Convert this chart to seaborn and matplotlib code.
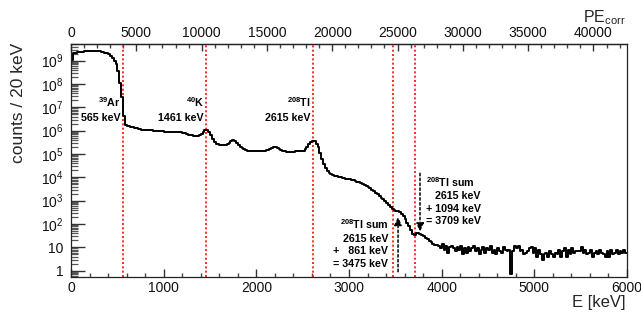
import numpy as np
import pandas as pd
import matplotlib
matplotlib.use("Agg")
import matplotlib.pyplot as plt
import seaborn as sns
from matplotlib.ticker import MultipleLocator, FixedLocator, NullFormatter

# ---------------- data ----------------
bin_width_keV = 20
e_max_keV = 6000
pe_per_keV = 7.095  # top axis calibration

# log10(counts) per 20 keV bin, 0 .. 3940 keV
spectrum_log10 = [
    9.03, 9.33, 9.35, 9.36, 9.37, 9.38, 9.39, 9.40, 9.41, 9.41,
    9.42, 9.42, 9.42, 9.42, 9.41, 9.40, 9.39, 9.37, 9.35, 9.33,
    9.30, 9.22, 9.13, 9.00, 8.85, 8.55, 8.03, 7.46, 6.65, 6.25,
    6.22, 6.20, 6.17, 6.15, 6.13, 6.10, 6.08, 6.06, 6.05, 6.04,
    6.04, 6.03, 6.02, 6.01, 6.00, 6.00, 5.99, 5.99, 5.98, 5.97,
    5.96, 5.95, 5.94, 5.93, 5.93, 5.93, 5.94, 5.95, 5.96, 5.95,
    5.92, 5.88, 5.85, 5.83, 5.82, 5.80, 5.79, 5.77, 5.78, 5.80,
    5.86, 5.95, 6.03, 6.04, 5.95, 5.82, 5.65, 5.50, 5.44, 5.42,
    5.40, 5.38, 5.37, 5.38, 5.42, 5.48, 5.55, 5.58, 5.55, 5.47,
    5.39, 5.32, 5.26, 5.22, 5.18, 5.15, 5.13, 5.12, 5.12, 5.12,
    5.12, 5.13, 5.13, 5.14, 5.15, 5.17, 5.19, 5.22, 5.25, 5.28,
    5.29, 5.27, 5.22, 5.17, 5.13, 5.11, 5.09, 5.08, 5.08, 5.09,
    5.10, 5.11, 5.12, 5.13, 5.13, 5.14, 5.20, 5.30, 5.42, 5.52,
    5.57, 5.55, 5.45, 5.28, 5.05, 4.80, 4.58, 4.40, 4.27, 4.19,
    4.14, 4.10, 4.07, 4.05, 4.03, 4.01, 3.99, 3.97, 3.95, 3.94,
    3.92, 3.90, 3.87, 3.84, 3.80, 3.78, 3.75, 3.71, 3.67, 3.62,
    3.58, 3.53, 3.47, 3.40, 3.34, 3.27, 3.20, 3.13, 3.06, 2.99,
    2.91, 2.83, 2.75, 2.66, 2.58, 2.56, 2.54, 2.50, 2.44, 2.36,
    2.22, 2.05, 1.90, 1.75, 1.58, 1.55, 1.60, 1.60, 1.58, 1.55,
    1.48, 1.42, 1.35, 1.28, 1.22, 1.15, 1.10, 1.08,
]

# counts per 20 keV bin, 3960 .. 5980 keV
tail_counts = [
    12, 9, 14, 8, 11, 6, 10, 12, 9, 7,
    10, 8, 11, 5, 9, 6, 10, 7, 9, 11,
    7, 9, 5, 8, 10, 6, 9, 8, 11, 6,
    8, 5, 9, 7, 6, 10, 8, 7, 8, 0.7,
    7, 12, 9, 11, 7, 8, 5, 6, 7, 9,
    10, 6, 9, 4, 8, 5, 3, 5, 6, 4,
    7, 5, 4, 6, 5, 8, 4, 7, 9, 4,
    8, 5, 9, 6, 7, 7, 7, 10, 6, 8,
    5, 6, 8, 4, 6, 7, 5, 8, 6, 5,
    4, 7, 4, 8, 5, 6, 8, 5, 7, 6,
    8, 6,
]

line_energies = [565, 1461, 2615, 3475, 3709]
peak_isotopes = [r"$\mathbf{^{39}}$Ar", r"$\mathbf{^{40}}$K", r"$\mathbf{^{208}}$Tl"]
peak_energy_text = ["565 keV", "1461 keV", "2615 keV"]

sum_low_lines = [r"$\mathbf{^{208}}$Tl sum", "2615 keV", "+   861 keV", "= 3475 keV"]
sum_high_lines = [r"$\mathbf{^{208}}$Tl sum", "2615 keV", "+ 1094 keV", "= 3709 keV"]

ytick_values = [1, 10, 1e2, 1e3, 1e4, 1e5, 1e6, 1e7, 1e8, 1e9]
ytick_labels = ["1", "10"] + [r"$10^{%d}$" % k for k in range(2, 10)]
xtick_values = [0, 1000, 2000, 3000, 4000, 5000, 6000]
pe_tick_values = [0, 5000, 10000, 15000, 20000, 25000, 30000, 35000, 40000]

counts = list(10 ** np.array(spectrum_log10)) + tail_counts
assert len(counts) == e_max_keV // bin_width_keV
bin_centers = np.arange(bin_width_keV / 2, e_max_keV, bin_width_keV)
df = pd.DataFrame({"E": bin_centers, "counts": counts})

# ---------------- style ----------------
sns.set_theme(style="ticks", rc={"xtick.direction": "in", "ytick.direction": "in"})
plt.rcParams["font.family"] = ["Liberation Sans", "DejaVu Sans"]
plt.rcParams["mathtext.fontset"] = "custom"
plt.rcParams["mathtext.rm"] = "Liberation Sans"
plt.rcParams["mathtext.it"] = "Liberation Sans:italic"
plt.rcParams["mathtext.bf"] = "Liberation Sans:bold"
plt.rcParams["mathtext.default"] = "regular"

fig = plt.figure(figsize=(6.41, 3.12), dpi=100)
ax = fig.add_axes([0.1108, 0.1122, 0.8674, 0.7468])

sns.histplot(data=df, x="E", weights="counts", binwidth=bin_width_keV,
             binrange=(0, e_max_keV), element="step",
             fill=False, color="black", linewidth=1.4, ax=ax)
ax.set_yscale("log")
ax.set_xlim(0, e_max_keV)
ax.set_ylim(0.537, 5.2e9)

for e in line_energies:
    ax.axvline(e, color="#ff1a1a", linestyle=(0, (1.1, 1.3)), linewidth=1.3, zorder=1)

# axes & ticks
ax.set_xticks(xtick_values)
ax.xaxis.set_minor_locator(MultipleLocator(200))
ax.set_yticks(ytick_values, labels=ytick_labels)
minor_y = [k * 10.0 ** d for d in range(-1, 10) for k in range(2, 10)]
ax.yaxis.set_minor_locator(FixedLocator(minor_y))
ax.yaxis.set_minor_formatter(NullFormatter())
ax.xaxis.set_tick_params(which="major", direction="in", length=6, width=1.0,
                         color="#333333", labelcolor="#111111", labelsize=10, pad=3,
                         bottom=True, top=False)
ax.xaxis.set_tick_params(which="minor", direction="in", length=3, width=1.0,
                         color="#444444", bottom=True, top=False)
ax.yaxis.set_tick_params(which="major", direction="in", length=10, width=1.0,
                         color="#333333", labelcolor="#111111", labelsize=10, pad=5.5,
                         left=True, right=False)
ax.yaxis.set_tick_params(which="minor", direction="in", length=5.2, width=0.9,
                         color="#555555", left=True, right=False)
for s in ax.spines.values():
    s.set_visible(True)
    s.set_linewidth(0.9)
    s.set_color("#222222")

secax = ax.secondary_xaxis("top", functions=(lambda e: e * pe_per_keV, lambda p: p / pe_per_keV))
secax.set_xticks(pe_tick_values)
secax.xaxis.set_minor_locator(MultipleLocator(1000))
secax.xaxis.set_tick_params(which="major", direction="in", length=5.2, width=1.0,
                            color="#333333", labelcolor="#111111", labelsize=10, pad=3)
secax.xaxis.set_tick_params(which="minor", direction="in", length=2.8, width=1.0,
                            color="#444444")
secax.spines["top"].set_linewidth(0.9)

ax.set_xlabel("E [keV]", fontsize=12, ha="right", va="center")
ax.xaxis.set_label_coords(0.998, -0.1116)
ax.set_ylabel("counts / 20 keV", fontsize=12.5)
ax.yaxis.label.set_ha("center")
ax.yaxis.label.set_va("center")
ax.yaxis.set_label_coords(-0.0953, 0.749)
ax.text(0.998, 1.1116, r"PE$_{corr}$", transform=ax.transAxes, ha="right",
        va="center", fontsize=11.5)

# annotations
tr = ax.get_xaxis_transform()
txt_kw = dict(fontsize=7.7, fontweight="bold", color="black", transform=tr, va="baseline")
for e, iso, en in zip(line_energies[:3], peak_isotopes, peak_energy_text):
    ax.text(e - 28, 0.728, iso, ha="right", **txt_kw)
    ax.text(e - 28, 0.668, en, ha="right", **txt_kw)

low_y = [0.204, 0.150, 0.097, 0.0436]
for s, y in zip(sum_low_lines, low_y):
    ax.text(3424, y, s, ha="right", **txt_kw)

high_y = [0.3876, 0.3335, 0.280, 0.226]
ax.text(3831, high_y[0], sum_high_lines[0], ha="left", **txt_kw)
for s, y in zip(sum_high_lines[1:], high_y[1:]):
    ax.text(4424, y, s, ha="right", **txt_kw)

arrow_kw = dict(arrowstyle="-|>,head_length=0.5,head_width=0.22", color="black", lw=1.1,
                linestyle=(0, (1.6, 1.6)), shrinkA=0, shrinkB=0, mutation_scale=10)
ax.annotate("", xy=(3529, 0.259), xytext=(3529, 0.0227), xycoords=tr, textcoords=tr,
            arrowprops=arrow_kw)
ax.annotate("", xy=(3766, 0.194), xytext=(3766, 0.445), xycoords=tr, textcoords=tr,
            arrowprops=arrow_kw)

fig.savefig("out.png", dpi=100)
